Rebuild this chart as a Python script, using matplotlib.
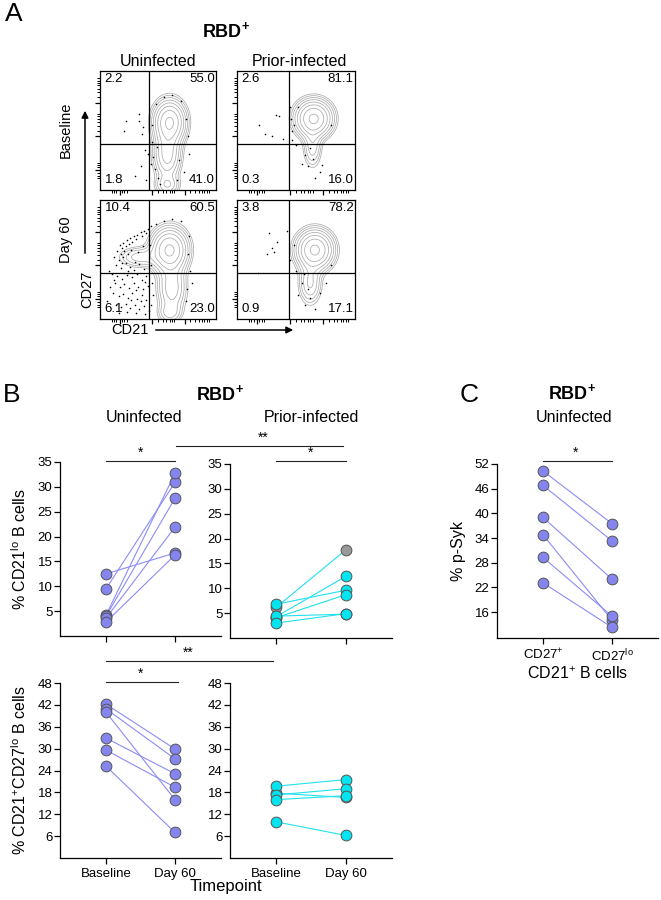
import matplotlib
matplotlib.use('Agg')
import matplotlib.pyplot as plt
import numpy as np

# 字体设置
plt.rcParams['font.family'] = ['Liberation Sans', 'DejaVu Sans']
plt.rcParams['mathtext.fontset'] = 'custom'
plt.rcParams['mathtext.rm'] = 'Liberation Sans'
plt.rcParams['mathtext.it'] = 'Liberation Sans:italic'
plt.rcParams['mathtext.bf'] = 'Liberation Sans:bold'
plt.rcParams['mathtext.default'] = 'rm'

W, H = 661, 900

# ---------------- 数据 ----------------
# B: % CD21lo B cells
unin_cd21lo_base = [12.5, 9.5, 4.2, 4.0, 3.6, 2.8]
unin_cd21lo_d60 = [16.7, 30.9, 32.7, 27.7, 21.9, 16.3]
prior_cd21lo_base = [6.2, 6.8, 4.3, 4.1, 4.4, 3.0]
prior_cd21lo_d60 = [17.7, 9.6, 12.4, 8.7, 4.8, 4.9]

# B: % CD21+CD27lo B cells
unin_cd27lo_base = [42.2, 40.9, 40.0, 32.9, 29.6, 25.2]
unin_cd27lo_d60 = [29.9, 27.2, 16.0, 23.1, 19.4, 7.0]
prior_cd27lo_base = [17.8, 19.7, 17.3, 16.0, 9.9]
prior_cd27lo_d60 = [16.6, 21.5, 19.0, 17.1, 6.2]
prior_gray = 0  # index of the grey donor

# C: % p-Syk
psyk_cd27pos = [50.3, 46.8, 39.0, 34.8, 29.3, 23.1]
psyk_cd27lo = [37.5, 33.3, 24.0, 14.0, 15.0, 12.3]

timepoints = ['Baseline', 'Day 60']
c_groups = [r'CD27$^{+}$', r'CD27$^{lo}$']

# A: quadrant percentages (UL, UR, LL, LR)
quad_tl = ['2.2', '55.0', '1.8', '41.0']
quad_tr = ['2.6', '81.1', '0.3', '16.0']
quad_bl = ['10.4', '60.5', '6.1', '23.0']
quad_br = ['3.8', '78.2', '0.9', '17.1']
gate_tl = (0.42, 0.39)
gate_tr = (0.44, 0.39)
gate_bl = (0.42, 0.39)
gate_br = (0.44, 0.39)

# contour populations: (cx, cy, sx, sy, weight)
pop_tl = [(0.60, 0.57, 0.075, 0.10, 1.0), (0.58, 0.30, 0.065, 0.12, 0.5), (0.58, 0.04, 0.06, 0.05, 0.25)]
pop_tr = [(0.65, 0.60, 0.085, 0.085, 1.0), (0.64, 0.36, 0.045, 0.10, 0.22)]
pop_bl = [(0.60, 0.58, 0.085, 0.10, 1.0), (0.34, 0.52, 0.10, 0.05, 0.22),
          (0.62, 0.26, 0.07, 0.12, 0.35), (0.60, 0.05, 0.06, 0.05, 0.18)]
pop_br = [(0.66, 0.58, 0.085, 0.09, 1.0), (0.62, 0.30, 0.055, 0.10, 0.28)]

# scattered events
dots_tl = [(.22, .58), (.21, .50), (.34, .64), (.34, .58), (.37, .53), (.36, .47), (.39, .34), (.35, .20),
           (.30, .12), (.41, .30), (.40, .08), (.48, .72), (.55, .78), (.62, .80), (.70, .75), (.74, .60),
           (.76, .45), (.45, .40), (.46, .28), (.47, .18), (.50, .10), (.52, .05), (.68, .25), (.72, .15),
           (.66, .08), (.45, .55), (.77, .30), (.44, .22), (.49, .36)]
dots_tr = [(.19, .55), (.24, .47), (.33, .63), (.36, .62), (.39, .43), (.30, .45), (.47, .50), (.46, .60),
           (.47, .42), (.50, .38), (.58, .29), (.64, .26), (.72, .21), (.62, .35), (.55, .22), (.70, .15),
           (.80, .55), (.52, .70), (.66, .10), (.45, .70), (.48, .55), (.60, .20)]
dots_bl = [(.17, .62), (.20, .64), (.23, .66), (.26, .68), (.29, .70), (.32, .71), (.35, .73), (.38, .74),
           (.41, .76), (.44, .78), (.19, .60), (.22, .61), (.25, .63), (.28, .65), (.31, .67), (.36, .70),
           (.40, .72), (.15, .57), (.18, .55), (.21, .57), (.12, .52), (.16, .50), (.20, .52), (.24, .55),
           (.27, .58), (.14, .45), (.18, .43), (.22, .47), (.26, .44), (.30, .48), (.34, .46), (.38, .42),
           (.10, .38), (.15, .36), (.19, .34), (.23, .37), (.28, .35), (.32, .38), (.36, .33), (.40, .36),
           (.13, .30), (.17, .27), (.21, .29), (.25, .26), (.29, .30), (.33, .27), (.37, .25), (.41, .28),
           (.11, .22), (.16, .19), (.20, .21), (.24, .18), (.28, .22), (.32, .17), (.36, .20), (.40, .16),
           (.14, .12), (.18, .10), (.22, .13), (.26, .09), (.30, .12), (.34, .08), (.38, .11), (.42, .07),
           (.06, .15), (.08, .40), (.44, .45), (.45, .30), (.46, .20), (.44, .12), (.77, .70), (.76, .55),
           (.78, .40), (.75, .25), (.74, .15), (.55, .82), (.62, .84), (.70, .82), (.48, .80), (.79, .30),
           (.24, .40), (.31, .24), (.35, .15), (.19, .47), (.27, .16), (.39, .31), (.12, .33), (.43, .62),
           (.33, .56), (.29, .41), (.37, .61), (.09, .27), (.16, .05), (.23, .06), (.31, .05), (.39, .04)]
dots_br = [(.27, .72), (.34, .65), (.31, .56), (.25, .55), (.42, .74), (.18, .39), (.30, .60), (.50, .40),
           (.55, .30), (.60, .25), (.62, .18), (.70, .22), (.58, .12), (.75, .30), (.52, .20), (.66, .08),
           (.45, .50), (.80, .45), (.48, .62), (.57, .38)]

# flow axis tick positions (logicle-like)
flow_major = [0.17, 0.45, 0.73]
flow_minor = [0.10, 0.12, 0.14, 0.19, 0.21, 0.23, 0.50, 0.54, 0.57, 0.60, 0.62, 0.64,
              0.78, 0.82, 0.85, 0.88, 0.90, 0.92, 0.94]

# ---------------- 画图 ----------------
fig = plt.figure(figsize=(W / 100, H / 100), dpi=100)


def px_axes(x0, y0, x1, y1):
    return fig.add_axes([x0 / W, 1 - y1 / H, (x1 - x0) / W, (y1 - y0) / H])


def flow_panel(box, pops, dots, gate, quads):
    ax = px_axes(*box)
    gx, gy = np.meshgrid(np.linspace(0, 1, 200), np.linspace(0, 1, 200))
    z = np.zeros_like(gx)
    for cx, cy, sx, sy, w in pops:
        z += w * np.exp(-0.5 * (((gx - cx) / sx) ** 2 + ((gy - cy) / sy) ** 2))
    levels = z.max() * np.geomspace(0.05, 0.9, 8)
    ax.contour(gx, gy, z, levels=levels, colors='#ababab', linewidths=0.55)
    d = np.array(dots)
    ax.scatter(d[:, 0], d[:, 1], s=1.3, color='black', linewidths=0, zorder=3)
    ax.axvline(gate[0], color='black', lw=0.9)
    ax.axhline(gate[1], color='black', lw=0.9)
    ax.set_xlim(0, 1)
    ax.set_ylim(0, 1)
    ax.set_xticks(flow_major)
    ax.set_yticks(flow_major)
    ax.set_xticks(flow_minor, minor=True)
    ax.set_yticks(flow_minor, minor=True)
    ax.set_xticklabels([])
    ax.set_yticklabels([])
    ax.tick_params(which='major', direction='out', length=3.5, width=0.9)
    ax.tick_params(which='minor', direction='out', length=2, width=0.7)
    for s in ax.spines.values():
        s.set_linewidth(0.9)
    fs = 9.5
    ax.text(0.04, 0.98, quads[0], transform=ax.transAxes, ha='left', va='top', fontsize=fs)
    ax.text(0.99, 0.98, quads[1], transform=ax.transAxes, ha='right', va='top', fontsize=fs)
    ax.text(0.04, 0.03, quads[2], transform=ax.transAxes, ha='left', va='bottom', fontsize=fs)
    ax.text(0.99, 0.03, quads[3], transform=ax.transAxes, ha='right', va='bottom', fontsize=fs)
    return ax


flow_panel((100, 71, 216, 190), pop_tl, dots_tl, gate_tl, quad_tl)
flow_panel((237, 71, 355, 190), pop_tr, dots_tr, gate_tr, quad_tr)
flow_panel((100, 200, 216, 319), pop_bl, dots_bl, gate_bl, quad_bl)
flow_panel((237, 200, 355, 319), pop_br, dots_br, gate_br, quad_br)

blue_face = '#8585ef'
blue_line = '#8c8cf5'
cyan_face = '#00e5ef'
cyan_line = '#22e0ee'
gray_face = '#9a9a9a'
edge = '#555555'


def style_axes(ax, ylim, yticks, xlabels=None):
    ax.set_xlim(-0.667, 1.667)
    ax.set_ylim(*ylim)
    ax.set_yticks(yticks)
    ax.set_xticks([0, 1])
    if xlabels is None:
        ax.set_xticklabels([])
    else:
        ax.set_xticklabels(xlabels, fontsize=9.5)
    ax.tick_params(axis='y', labelsize=9.5, length=4, width=0.9, pad=1.5)
    ax.tick_params(axis='x', length=4, width=0.9, pad=3)
    for side in ['top', 'right']:
        ax.spines[side].set_visible(False)
    for side in ['left', 'bottom']:
        ax.spines[side].set_linewidth(0.9)


def paired(ax, before, after, face, line, gray_idx=None):
    for i, (b, a) in enumerate(zip(before, after)):
        ax.plot([0, 1], [b, a], color=line, lw=0.8, zorder=1)
    for i, (b, a) in enumerate(zip(before, after)):
        fc = gray_face if i == gray_idx else face
        ax.scatter([0, 1], [b, a], s=60, color=fc, edgecolors=edge, linewidths=0.7, zorder=3)


ax1 = px_axes(60, 462, 221, 636)
paired(ax1, unin_cd21lo_base, unin_cd21lo_d60, blue_face, blue_line)
style_axes(ax1, (0, 35), [5, 10, 15, 20, 25, 30, 35])
ax1.set_ylabel(r'% CD21$^{lo}$ B cells', fontsize=11.5, labelpad=6)

ax2 = px_axes(230, 464, 392, 638)
paired(ax2, prior_cd21lo_base, prior_cd21lo_d60, cyan_face, cyan_line, prior_gray)
style_axes(ax2, (0, 35), [5, 10, 15, 20, 25, 30, 35])

ax3 = px_axes(60, 683, 221, 858)
paired(ax3, unin_cd27lo_base, unin_cd27lo_d60, blue_face, blue_line)
style_axes(ax3, (0, 48), [6, 12, 18, 24, 30, 36, 42, 48], timepoints)
ax3.set_ylabel(r'% CD21$^{+}$CD27$^{lo}$ B cells', fontsize=11.5, labelpad=6)

ax4 = px_axes(230, 683, 392, 858)
paired(ax4, prior_cd27lo_base, prior_cd27lo_d60, cyan_face, cyan_line, prior_gray)
style_axes(ax4, (0, 48), [6, 12, 18, 24, 30, 36, 42, 48], timepoints)

ax5 = px_axes(497, 464, 658, 638)
paired(ax5, psyk_cd27pos, psyk_cd27lo, blue_face, blue_line)
style_axes(ax5, (9.7, 52), [16, 22, 28, 34, 40, 46, 52], c_groups)
ax5.set_ylabel('% p-Syk', fontsize=11.5, labelpad=6)
ax5.set_xlabel(r'CD21$^{+}$ B cells', fontsize=11.5, labelpad=1)

# 注释层（像素坐标）
ov = fig.add_axes([0, 0, 1, 1])
ov.set_xlim(0, W)
ov.set_ylim(H, 0)
ov.axis('off')
ov.patch.set_alpha(0)

ov.text(14, 14, 'A', fontsize=19, ha='center', va='center')
ov.text(12, 395, 'B', fontsize=19, ha='center', va='center')
ov.text(469, 395, 'C', fontsize=19, ha='center', va='center')

ov.text(226, 31, r'$\mathbf{RBD^{+}}$', fontsize=13, ha='center', va='center')
ov.text(158, 62, 'Uninfected', fontsize=11.5, ha='center', va='center')
ov.text(299, 62, 'Prior-infected', fontsize=11.5, ha='center', va='center')
ov.text(66, 130, 'Baseline', fontsize=10.5, rotation=90, ha='center', va='center')
ov.text(66, 240, 'Day 60', fontsize=10.5, rotation=90, ha='center', va='center')
ov.text(87, 289, 'CD27', fontsize=10.5, rotation=90, ha='center', va='center')
ov.text(130, 330, 'CD21', fontsize=10.5, ha='center', va='center')
ov.annotate('', xy=(85, 108), xytext=(85, 256),
            arrowprops=dict(arrowstyle='-|>', color='black', lw=1.1, mutation_scale=10))
ov.annotate('', xy=(296, 330), xytext=(153, 330),
            arrowprops=dict(arrowstyle='-|>', color='black', lw=1.1, mutation_scale=10))

ov.text(220, 394, r'$\mathbf{RBD^{+}}$', fontsize=13, ha='center', va='center')
ov.text(144, 418, 'Uninfected', fontsize=11.5, ha='center', va='center')
ov.text(311, 418, 'Prior-infected', fontsize=11.5, ha='center', va='center')
ov.text(572, 393, r'$\mathbf{RBD^{+}}$', fontsize=13, ha='center', va='center')
ov.text(574, 417, 'Uninfected', fontsize=11.5, ha='center', va='center')
ov.text(226, 887, 'Timepoint', fontsize=12, ha='center', va='center')

# 显著性标记
sig = [((106, 175), 461, '*', 141), ((276, 346), 461, '*', 311), ((176, 343), 446, '**', 263),
       ((106, 273), 661, '**', 188), ((106, 178), 682, '*', 141), ((543, 612), 461, '*', 576)]
for (x0, x1), y, s, xt in sig:
    ov.plot([x0, x1], [y, y], color='#222222', lw=0.8)
    ov.text(xt, y - 1, s, fontsize=10, ha='center', va='bottom')

fig.savefig('out.png', dpi=100)
